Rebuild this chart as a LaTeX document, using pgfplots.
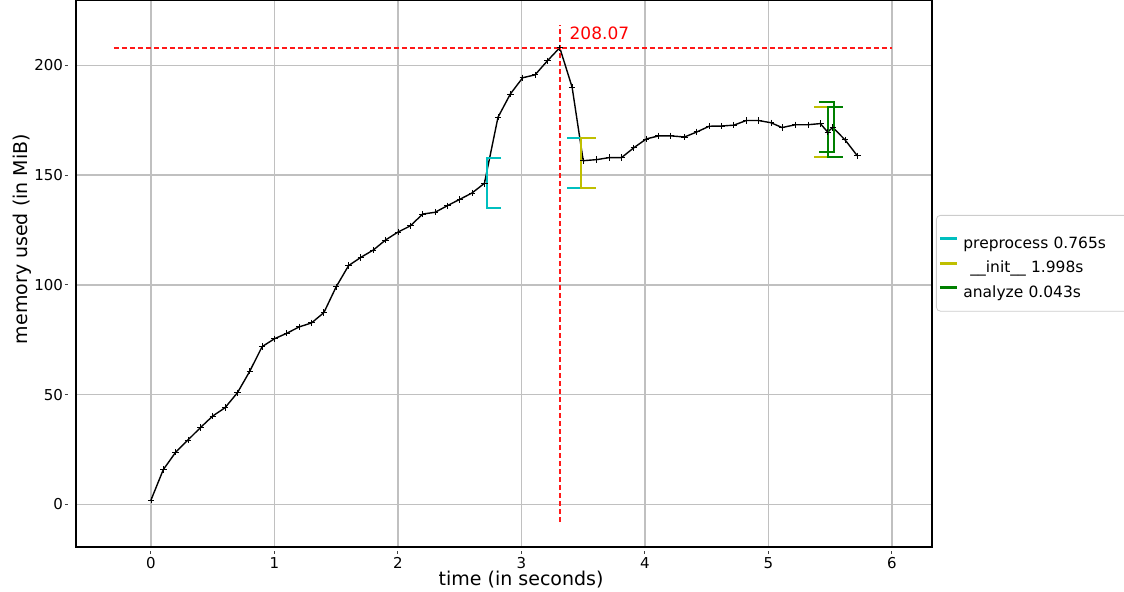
\documentclass[border=0pt]{standalone}
\usepackage{pgfplots}
\pgfplotsset{compat=1.18}
\usepackage{fontspec}
\setmainfont{DejaVu Sans}
\definecolor{mcyan}{rgb}{0,0.75,0.75}
\definecolor{myellow}{rgb}{0.75,0.75,0}
\definecolor{mgreen}{rgb}{0,0.5,0}
\definecolor{gridgray}{RGB}{192,192,192}
\definecolor{mred}{rgb}{1,0.1,0.1}

\pgfplotstableread{
t mem
0.00 2.0
0.10 15.9
0.20 23.8
0.30 29.4
0.40 35.0
0.50 40.3
0.60 44.1
0.70 50.9
0.80 60.7
0.90 71.9
1.00 75.5
1.10 78.0
1.20 80.9
1.30 82.7
1.40 87.4
1.50 99.2
1.60 108.8
1.70 112.6
1.80 115.9
1.90 120.5
2.00 124.1
2.10 126.9
2.20 132.3
2.30 133.1
2.40 136.1
2.50 139.0
2.60 141.9
2.70 146.3
2.81 176.4
2.91 187.0
3.01 194.4
3.11 195.7
3.21 202.1
3.31 208.07
3.41 190.1
3.50 156.6
3.61 157.1
3.71 158.0
3.81 158.0
3.91 162.5
4.01 166.5
4.11 167.9
4.21 167.9
4.32 167.4
4.42 169.7
4.52 172.3
4.62 172.4
4.72 172.8
4.82 174.9
4.92 174.9
5.02 173.9
5.11 171.7
5.22 173.0
5.32 173.0
5.42 173.5
5.48 169.6
5.52 171.8
5.62 166.1
5.72 158.8
}\memtable

\pgfplotstableread{
t mem
-0.30 208.07
6.00 208.07
}\hmax

\pgfplotstableread{
t mem
3.31 -8.0
3.31 218.5
}\vmax

\begin{document}
\begin{tikzpicture}
\begin{axis}[
  scale only axis, width=428pt, height=273.5pt,
  at={(0,0)}, anchor=south west,
  xmin=-0.607, xmax=6.324, ymin=-19.36, ymax=229.8,
  xtick={0,1,2,3,4,5,6}, ytick={0,50,100,150,200},
  xtick pos=bottom, ytick pos=left,
  grid=major, grid style={gridgray, line width=0.7pt},
  axis line style={line width=0.6pt},
  tick align=outside, major tick length=5.5pt,
  xtick style={line width=0.5pt, black!75, dash pattern=on 0pt off 2.25pt on 1.25pt off 3pt},
  ytick style={line width=0.5pt, black!75, dash pattern=on 1.5pt off 6pt},
  ticklabel style={font=\fontsize{7.5}{9}\selectfont},
  xticklabel style={yshift=3.8pt},
  yticklabel style={xshift=2.5pt},
  /pgf/number format/assume math mode=true,
  every axis x label/.style={at={(axis description cs:0.52,0)}, yshift=-16.5pt, anchor=center, font=\fontsize{9.5}{11}\selectfont},
  every axis y label/.style={at={(axis description cs:0,0.563)}, xshift=-27pt, rotate=90, anchor=center, font=\fontsize{9.5}{11}\selectfont},
  xlabel={time (in seconds)},
  ylabel={memory used (in MiB)},
  legend style={at={(axis description cs:1,0.607)}, anchor=north west, xshift=2pt,
    draw=black!20, rounded corners=2pt, font=\fontsize{7.75}{9}\selectfont,
    inner xsep=1pt, inner ysep=5pt, row sep=-1pt,
    nodes={inner sep=0pt, text height=11.5pt, text depth=1.8pt, text width=90pt},
    /tikz/every odd column/.append style={column sep=2.5pt}},
  legend cell align=left,
  legend image code/.code={\draw[#1, line width=1.5pt] (0pt,0pt) -- (8.5pt,0pt);},
]
% memory trace
\addplot[black, line width=0.7pt, mark=+, mark size=1.6pt, mark options={line width=0.45pt}, forget plot] table[x=t, y=mem] {\memtable};
% max memory markers
\addplot[draw=mred, line width=0.9pt, dash pattern=on 2.5pt off 1.5pt, forget plot] table[x=t, y=mem] {\hmax};
\addplot[draw=mred, line width=0.8pt, dash pattern=on 2.5pt off 1.5pt, forget plot] table[x=t, y=mem] {\vmax};
\node[anchor=base west, text=red, font=\fontsize{8.5}{10}\selectfont, inner sep=0pt] at (axis cs:3.387,211.8) {208.07};
% brackets
\addplot[mcyan, line width=1pt] coordinates {(2.836,157.9) (2.72,157.9) (2.72,135.1) (2.836,135.1)};
\addlegendentry{preprocess 0.765s}
\addplot[mcyan, line width=1pt, forget plot] coordinates {(3.369,166.9) (3.485,166.9) (3.485,144.1) (3.369,144.1)};
\addplot[myellow, line width=1pt] coordinates {(3.601,166.9) (3.485,166.9) (3.485,144.1) (3.601,144.1)};
\addlegendentry{\hspace{3.5pt}\_\_init\_\_ 1.998s}
\addplot[myellow, line width=1pt, forget plot] coordinates {(5.369,180.9) (5.485,180.9) (5.485,158.1) (5.369,158.1)};
\addplot[mgreen, line width=1pt] coordinates {(5.601,180.9) (5.485,180.9) (5.485,158.1) (5.601,158.1)};
\addlegendentry{analyze 0.043s}
\addplot[mgreen, line width=1pt, forget plot] coordinates {(5.412,183.5) (5.528,183.5) (5.528,160.7) (5.412,160.7)};
\end{axis}
\pgfresetboundingbox
\path[use as bounding box] (-38pt,-22pt) rectangle (524pt,273.5pt);
\end{tikzpicture}
\end{document}
